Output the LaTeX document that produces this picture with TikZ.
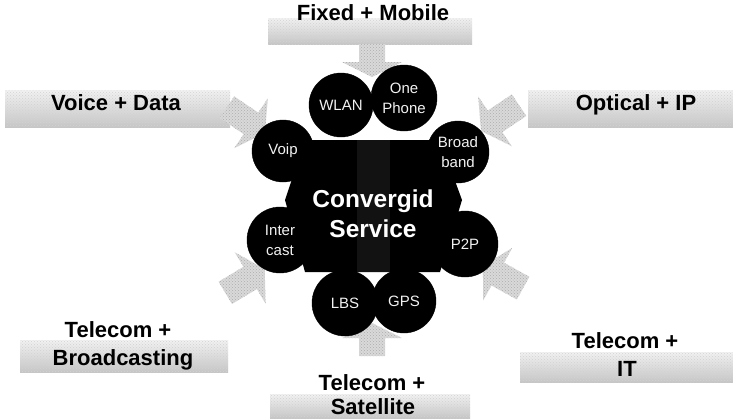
\documentclass[tikz,border=0pt]{standalone}
\usepackage{fontspec}
\setmainfont{Liberation Sans}
\usetikzlibrary{patterns}
\tikzset{
  bub/.style={circle, fill=black, draw=black, minimum size=#1, inner sep=0pt,
    text=gray!10, font=\fontsize{15}{20}\selectfont, align=center},
  lbl/.style={font=\bfseries\fontsize{22}{27}\selectfont, text=black, inner sep=0pt, anchor=base},
  band/.style={top color=gray!10, bottom color=gray!45, draw=none, postaction={pattern=crosshatch dots, pattern color=gray!35}},
  arr/.style={fill=gray!30, draw=none, postaction={pattern=crosshatch dots, pattern color=gray!65}},
}
\newcommand\blockarrow[5]{% x, y, angle, length, head length
  \path[arr, shift={(#1,#2)}, rotate=#3]
    ({-#4/2},-13) -- ({#4/2-#5},-13) -- ({#4/2-#5},-30) -- ({#4/2},0)
    -- ({#4/2-#5},30) -- ({#4/2-#5},13) -- ({-#4/2},13) -- cycle;}
\begin{document}
\begin{tikzpicture}[x=1pt,y=-1pt]
\useasboundingbox (0,0) rectangle (733,418);

% label bands
\shade[band] (268,18) rectangle (472,44);
\shade[band] (5,90) rectangle (230,127);
\shade[band] (528,90) rectangle (733,127);
\shade[band] (20,340) rectangle (228,372);
\shade[band] (520,352) rectangle (733,382);
\shade[band] (270,394) rectangle (470,418);

% labels
\node[lbl] (fm) at (373,20) {Fixed + Mobile};
\node[lbl] (vd) at (116,110) {Voice + Data};
\node[lbl] (oi) at (636,110) {Optical + IP};
\node[lbl] (tb1) at (118,337) {Telecom +};
\node[lbl] (tb2) at (123,365) {Broadcasting};
\node[lbl] (ti1) at (625,348) {Telecom +};
\node[lbl] (ti2) at (627,376) {IT};
\node[lbl] (ts1) at (372,390) {Telecom +};
\node[lbl] (ts2) at (373,414) {Satellite};

% block arrows pointing to the centre
\blockarrow{372}{60.5}{-90}{33}{15}
\blockarrow{372}{339.5}{90}{33}{15}
\blockarrow{246}{120}{-34}{46}{17}
\blockarrow{500}{118}{-146}{46}{17}
\blockarrow{245}{281}{31}{46}{17}
\blockarrow{503}{277}{151}{46}{17}

% central body
\fill[black] (305,140) -- (440,140) -- (462,200) -- (440,272) -- (305,272) -- (285,200) -- cycle;
\fill[gray!14!black] (357,140) rectangle (390,272);

% bubbles
\node[bub=64pt] (wlan) at (341,105) {WLAN};
\node[bub=66pt] (one) at (404,98) {One\\Phone};
\node[bub=62pt] (broad) at (458,152) {Broad\\band};
\node[bub=62pt] (voip) at (283,151) {Voip};
\node[bub=66pt] (inter) at (280,240) {Inter\\cast};
\node[bub=66pt] (p2p) at (465,244) {P2P};
\node[bub=66pt] (lbs) at (345,303) {LBS};
\node[bub=64pt] (gps) at (404,301) {GPS};

\node[text=white, font=\bfseries\fontsize{24.5}{30}\selectfont, align=center] (cs) at (373,214) {Convergid\\Service};
\end{tikzpicture}
\end{document}
